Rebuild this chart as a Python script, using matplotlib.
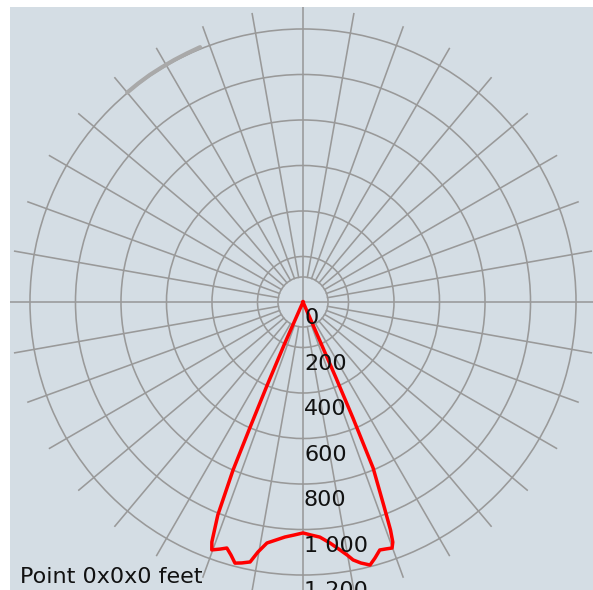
import numpy as np
import matplotlib
matplotlib.use("Agg")
import matplotlib.pyplot as plt

# ---- data (angle in degrees from nadir, positive to the right; intensity) ----
beam_angles = [-24.0, -23.8, -23.3, -22.9, -22.6, -21.8, -20.8, -20.2, -18.5, -17.2,
               -15.9, -14.6, -13.2, -11.5, -10.2, -8.5, -6.5, -4.4, -2.2, 0.0,
               2.0, 4.1, 6.4, 8.5, 9.9, 11.0, 12.5, 14.3, 15.7, 17.2,
               18.6, 19.9, 20.5, 21.0, 21.6, 22.9, 23.3, 23.5, 23.5, 23.6]
beam_values = [0, 200, 400, 600, 800, 1008, 1128, 1161, 1145, 1132,
               1156, 1186, 1178, 1166, 1116, 1071, 1053, 1036, 1025, 1015,
               1025, 1036, 1066, 1102, 1129, 1155, 1175, 1193, 1169, 1141,
               1145, 1150, 1127, 1073, 970, 792, 555, 364, 110, 0]

uplight_angles = [202, 205, 208, 211, 214, 217, 220]
uplight_values = [1208, 1206, 1205, 1204, 1204, 1203, 1202]

ring_values = [200, 400, 600, 800, 1000, 1200]
ring_labels = ["0", "200", "400", "600", "800", "1 000", "1 200"]
label_values = [0, 200, 400, 600, 800, 1000, 1200]
inner_ring = 110
r_max = 1290
spoke_step = 10
caption = "Point 0x0x0 feet"

BG = "#d4dde4"
GRID = "#999999"

W, H = 593, 590
fig = plt.figure(figsize=(W / 100, H / 100), dpi=100, facecolor="white")

# background panel
bg = fig.add_axes([10 / W, 0, (W - 10) / W, (H - 7) / H])
bg.set_facecolor(BG)
bg.set_xticks([]); bg.set_yticks([])
for s in bg.spines.values():
    s.set_visible(False)

# polar axes centred at pixel (303, 302 from top)
cx, cy = 303, H - 302
R = 293.5
ax = fig.add_axes([(cx - R) / W, (cy - R) / H, 2 * R / W, 2 * R / H],
                  projection="polar")
ax.set_facecolor("none")
ax.set_theta_zero_location("S")
ax.set_theta_direction(1)
ax.set_ylim(0, r_max)
ax.spines["polar"].set_visible(False)
ax.set_xticks([])
ax.set_rgrids([inner_ring] + ring_values, labels=[""] * (len(ring_values) + 1))
ax.yaxis.grid(True, color=GRID, lw=1.15)
ax.xaxis.grid(False)
ax.tick_params(labelleft=False, labelbottom=False)

# spokes
for a in range(0, 360, spoke_step):
    th = np.deg2rad(a)
    if a % 90 == 0:
        ln, = ax.plot([th, th], [0, 1500], color=GRID, lw=1.15, zorder=1,
                      clip_on=True)
        ln.set_clip_path(bg.patch)
    else:
        ax.plot([th, th], [inner_ring, r_max], color=GRID, lw=1.15, zorder=1)

# uplight trace (grey)
ax.plot(np.deg2rad(uplight_angles), uplight_values, color="#a9a9a9", lw=3.0,
        solid_capstyle="round", zorder=2)

# main beam
ax.plot(np.deg2rad(beam_angles), beam_values, color="#ff0000", lw=2.5,
        zorder=3, solid_joinstyle="round")

# ring labels along the nadir axis
for v, lab in zip(label_values, ring_labels):
    ax.annotate(lab, xy=(0, v), xytext=(1, -6), textcoords="offset pixels",
                ha="left", va="top", fontsize=16, color="#111111",
                family="DejaVu Sans", zorder=5, annotation_clip=False)

fig.text(20 / W, (H - 583) / H, caption, ha="left", va="baseline",
         fontsize=16, color="#111111", family="DejaVu Sans")

fig.savefig("out.png", dpi=100, facecolor="white")
